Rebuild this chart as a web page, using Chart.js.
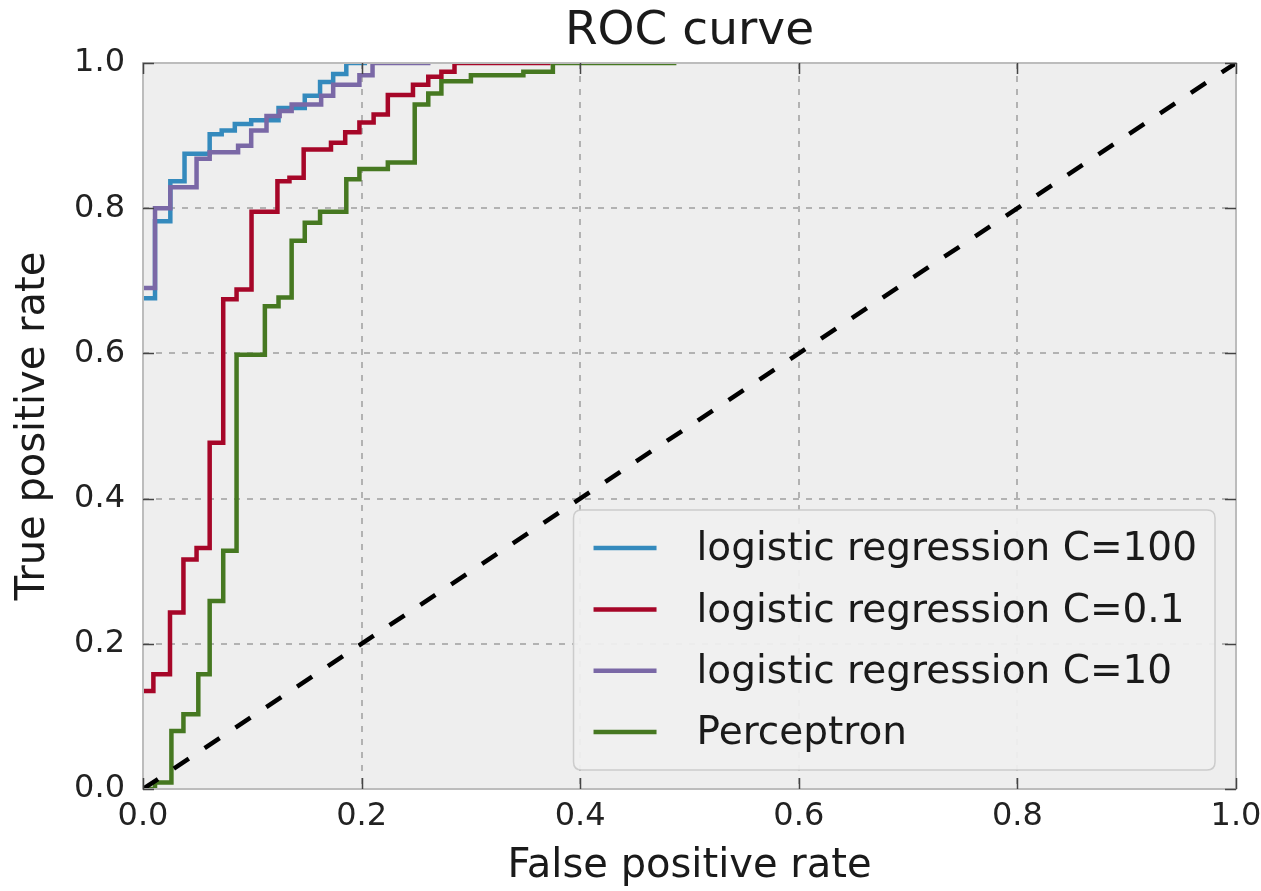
<!DOCTYPE html>
<html>
<head>
<meta charset="utf-8">
<script src="https://cdn.jsdelivr.net/npm/chart.js@4.4.0/dist/chart.umd.min.js"></script>
<style>
  html, body { margin: 0; padding: 0; background: #ffffff; }
  #wrap { width: 1261px; height: 891px; position: relative; }
</style>
</head>
<body>
<div id="wrap"><canvas id="c" width="1261" height="891"></canvas></div>
<script>
// ---- data ----
const chartTitle = 'ROC curve';
const xAxisTitle = 'False positive rate';
const yAxisTitle = 'True positive rate';
const tickValues = [0, 0.2, 0.4, 0.6, 0.8, 1.0];

const seriesLabels = ['logistic regression C=100', 'logistic regression C=0.1', 'logistic regression C=10', 'Perceptron'];
const seriesColors = ['#348ABD', '#A60628', '#7A68A6', '#467821'];

// step corners: x where the curve rises, y after the rise
const lr100Fpr = [0, 0.011, 0.025, 0.038, 0.061, 0.072, 0.084, 0.099, 0.124, 0.148, 0.162, 0.174, 0.186, 0.205];
const lr100Tpr = [0.676, 0.782, 0.837, 0.875, 0.902, 0.907, 0.916, 0.921, 0.938, 0.955, 0.974, 0.985, 1.0, 1.0];

const lr01Fpr = [0, 0.0095, 0.0247, 0.037, 0.049, 0.061, 0.0734, 0.0856, 0.0993, 0.123, 0.134, 0.147, 0.172, 0.185, 0.198, 0.211, 0.224, 0.247, 0.261, 0.273, 0.285, 0.373];
const lr01Tpr = [0.135, 0.158, 0.243, 0.316, 0.332, 0.477, 0.6745, 0.688, 0.795, 0.837, 0.842, 0.881, 0.890, 0.9045, 0.918, 0.929, 0.956, 0.970, 0.981, 0.988, 1.0, 1.0];

const lr10Fpr = [0, 0.011, 0.025, 0.049, 0.061, 0.087, 0.099, 0.113, 0.125, 0.136, 0.163, 0.174, 0.198, 0.21, 0.263];
const lr10Tpr = [0.69, 0.80, 0.829, 0.868, 0.877, 0.886, 0.907, 0.927, 0.934, 0.943, 0.955, 0.970, 0.983, 1.0, 1.0];

const percFpr = [0, 0.011, 0.026, 0.037, 0.0506, 0.061, 0.0734, 0.0856, 0.1115, 0.124, 0.136, 0.148, 0.162, 0.186, 0.198, 0.224, 0.2486, 0.261, 0.273, 0.300, 0.348, 0.375, 0.488];
const percTpr = [0, 0.009, 0.080, 0.103, 0.158, 0.259, 0.328, 0.598, 0.665, 0.677, 0.755, 0.780, 0.795, 0.840, 0.854, 0.863, 0.943, 0.958, 0.975, 0.983, 0.988, 1.0, 1.0];

const diagFpr = [0, 1];
const diagTpr = [0, 1];

// ---- build datasets ----
function pts(xs, ys) { return xs.map((x, i) => ({ x: x, y: ys[i] })); }
const curveX = [lr100Fpr, lr01Fpr, lr10Fpr, percFpr];
const curveY = [lr100Tpr, lr01Tpr, lr10Tpr, percTpr];
const drawOrder = [5, 4, 3, 2];

const datasets = seriesLabels.map((lab, i) => ({
  label: lab,
  data: pts(curveX[i], curveY[i]),
  borderColor: seriesColors[i],
  backgroundColor: seriesColors[i],
  borderWidth: 4.5,
  pointRadius: 0,
  stepped: true,
  fill: false,
  clip: 0,
  order: drawOrder[i]
}));
datasets.push({
  label: '',
  data: pts(diagFpr, diagTpr),
  borderColor: '#000000',
  borderWidth: 4.5,
  borderDash: [18, 19],
  pointRadius: 0,
  fill: false,
  clip: 0,
  order: 1,
  isReference: true
});

const FONT = "'DejaVu Sans', 'Liberation Sans', sans-serif";

const mplPlugin = {
  id: 'mplStyle',
  beforeDraw(chart) {
    const { ctx, chartArea: a } = chart;
    ctx.save();
    ctx.fillStyle = '#ffffff';
    ctx.fillRect(0, 0, chart.width, chart.height);
    ctx.fillStyle = '#eeeeee';
    ctx.fillRect(a.left, a.top, a.right - a.left, a.bottom - a.top);
    ctx.restore();
  },
  afterDatasetsDraw(chart) {
    const { ctx, chartArea: a } = chart;
    const xs = chart.scales.x, ys = chart.scales.y;
    ctx.save();
    ctx.strokeStyle = '#bcbcbc';
    ctx.lineWidth = 2;
    ctx.strokeRect(a.left, a.top, a.right - a.left, a.bottom - a.top);
    ctx.strokeStyle = '#444444';
    ctx.lineWidth = 1.5;
    const L = 11;
    ctx.beginPath();
    xs.ticks.forEach(t => {
      const px = Math.round(xs.getPixelForValue(t.value)) + 0.5;
      ctx.moveTo(px, a.bottom); ctx.lineTo(px, a.bottom - L);
      ctx.moveTo(px, a.top); ctx.lineTo(px, a.top + L);
    });
    ys.ticks.forEach(t => {
      const py = Math.round(ys.getPixelForValue(t.value)) + 0.5;
      ctx.moveTo(a.left, py); ctx.lineTo(a.left + L, py);
      ctx.moveTo(a.right, py); ctx.lineTo(a.right - L, py);
    });
    ctx.stroke();
    ctx.restore();
  },
  afterDraw(chart) {
    const { ctx, chartArea: a } = chart;
    const items = chart.data.datasets.filter(d => !d.isReference);
    const fontSize = 39;
    ctx.save();
    ctx.font = fontSize + 'px ' + FONT;
    let maxW = 0;
    items.forEach(d => { maxW = Math.max(maxW, ctx.measureText(d.label).width); });
    const padL = 20, lineLen = 63, gap = 40, padR = 18, rowH = 61.3, padT = 38, padB = 38;
    const w = padL + lineLen + gap + maxW + padR;
    const h = padT + rowH * (items.length - 1) + padB;
    const right = a.right - 21, bottom = a.bottom - 19;
    const left = right - w, top = bottom - h;
    const r = 8;
    ctx.beginPath();
    ctx.moveTo(left + r, top);
    ctx.lineTo(right - r, top);
    ctx.quadraticCurveTo(right, top, right, top + r);
    ctx.lineTo(right, bottom - r);
    ctx.quadraticCurveTo(right, bottom, right - r, bottom);
    ctx.lineTo(left + r, bottom);
    ctx.quadraticCurveTo(left, bottom, left, bottom - r);
    ctx.lineTo(left, top + r);
    ctx.quadraticCurveTo(left, top, left + r, top);
    ctx.closePath();
    ctx.fillStyle = 'rgba(239,239,239,0.95)';
    ctx.fill();
    ctx.strokeStyle = '#cccccc';
    ctx.lineWidth = 1.5;
    ctx.stroke();
    ctx.textBaseline = 'middle';
    ctx.textAlign = 'left';
    items.forEach((d, i) => {
      const cy = top + padT + i * rowH;
      ctx.strokeStyle = d.borderColor;
      ctx.lineWidth = 4.5;
      ctx.beginPath();
      ctx.moveTo(left + padL, cy);
      ctx.lineTo(left + padL + lineLen, cy);
      ctx.stroke();
      ctx.fillStyle = '#1a1a1a';
      ctx.fillText(d.label, left + padL + lineLen + gap, cy + 2);
    });
    ctx.restore();
  }
};

new Chart(document.getElementById('c'), {
  type: 'line',
  data: { datasets: datasets },
  plugins: [mplPlugin],
  options: {
    responsive: false,
    animation: false,
    devicePixelRatio: 1,
    layout: { padding: { left: 0, right: 25, top: 0, bottom: 0 } },
    plugins: {
      legend: { display: false },
      tooltip: { enabled: false },
      title: { display: false }
    },
    scales: {
      x: {
        type: 'linear',
        min: 0, max: 1,
        afterBuildTicks(scale) { scale.ticks = tickValues.map(v => ({ value: v })); },
        afterFit(scale) { scale.height = 102; scale.paddingLeft = 0; scale.paddingRight = 0; },
        ticks: {
          callback: v => Number(v).toFixed(1),
          color: '#222222',
          font: { family: FONT, size: 32 },
          padding: 8,
          maxRotation: 0
        },
        grid: { color: '#b2b2b2', lineWidth: 2, drawTicks: false },
        border: { display: false, dash: [6, 7] },
        title: {
          display: true,
          text: xAxisTitle,
          color: '#1a1a1a',
          font: { family: FONT, size: 40 },
          padding: { top: 0, bottom: 0 }
        }
      },
      x2: {
        type: 'linear',
        position: 'top',
        min: 0, max: 1,
        afterFit(scale) { scale.height = 63; scale.paddingLeft = 0; scale.paddingRight = 0; },
        ticks: { display: false },
        grid: { display: false, drawTicks: false },
        border: { display: false },
        title: {
          display: true,
          text: chartTitle,
          color: '#1a1a1a',
          font: { family: FONT, size: 47 },
          padding: { top: 4, bottom: 0 }
        }
      },
      y: {
        type: 'linear',
        min: 0, max: 1,
        afterBuildTicks(scale) { scale.ticks = tickValues.map(v => ({ value: v })); },
        afterFit(scale) { scale.width = 143; scale.paddingTop = 0; scale.paddingBottom = 0; },
        ticks: {
          callback: v => Number(v).toFixed(1),
          color: '#222222',
          font: { family: FONT, size: 32 },
          padding: 18
        },
        grid: { color: '#b2b2b2', lineWidth: 2, drawTicks: false },
        border: { display: false, dash: [6, 7] },
        title: {
          display: true,
          text: yAxisTitle,
          color: '#1a1a1a',
          font: { family: FONT, size: 40 },
          padding: { top: 10, bottom: 0 }
        }
      }
    }
  }
});
</script>
</body>
</html>
